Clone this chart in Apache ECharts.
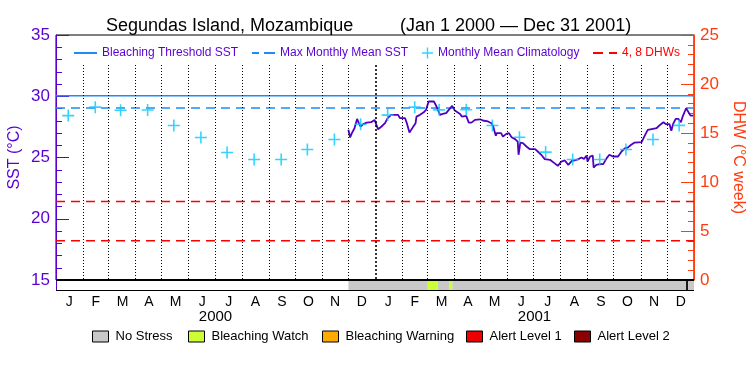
<!DOCTYPE html>
<html><head><meta charset="utf-8">
<script src="https://cdn.jsdelivr.net/npm/echarts@6/dist/echarts.min.js"></script>
<style>html,body{margin:0;padding:0;background:#fff}#c{width:750px;height:375px}</style>
</head><body><div id="c"></div>
<script>
// ---------------- DATA ----------------
const sstDates = ['2000-12-01','2000-12-03','2000-12-05','2000-12-08','2000-12-11','2000-12-13','2000-12-15','2000-12-18','2000-12-22','2000-12-27','2000-12-31',
'2001-01-04','2001-01-08','2001-01-12','2001-01-15','2001-01-19','2001-01-27','2001-01-29','2001-02-04','2001-02-06','2001-02-09','2001-02-13','2001-02-16','2001-02-17','2001-02-21','2001-02-25','2001-02-28',
'2001-03-03','2001-03-09','2001-03-12','2001-03-16','2001-03-19','2001-03-23','2001-03-26','2001-03-30','2001-04-02','2001-04-08','2001-04-10','2001-04-15','2001-04-18','2001-04-21','2001-04-25',
'2001-05-01','2001-05-04','2001-05-10','2001-05-14','2001-05-16','2001-05-18','2001-05-19','2001-05-20','2001-05-25','2001-05-27','2001-05-31','2001-06-03','2001-06-06','2001-06-10','2001-06-13','2001-06-14','2001-06-16','2001-06-19','2001-06-23','2001-06-27',
'2001-07-03','2001-07-06','2001-07-10','2001-07-14','2001-07-20','2001-07-25','2001-07-29','2001-08-02','2001-08-06','2001-08-10','2001-08-14','2001-08-17','2001-08-21','2001-08-25','2001-08-28','2001-08-31',
'2001-09-01','2001-09-04','2001-09-07','2001-09-08','2001-09-11','2001-09-15','2001-09-19','2001-09-23','2001-09-26','2001-09-30','2001-10-06','2001-10-10','2001-10-14','2001-10-17','2001-10-21','2001-10-25',
'2001-11-02','2001-11-06','2001-11-09','2001-11-15','2001-11-19','2001-11-23','2001-11-27','2001-11-30','2001-12-04','2001-12-06','2001-12-08','2001-12-11','2001-12-14','2001-12-17','2001-12-19','2001-12-23','2001-12-25','2001-12-28','2001-12-31'];
const sstValues = [27.26,26.63,26.99,27.39,28.15,27.80,27.53,27.72,27.85,27.88,28.07,
27.31,27.53,27.80,28.21,28.48,28.48,28.21,28.21,27.80,27.04,27.48,27.80,28.34,28.48,28.67,28.89,
29.57,29.57,29.16,28.48,28.56,28.62,28.89,29.21,28.83,28.56,28.34,28.40,27.85,27.85,28.07,
28.12,28.02,27.94,27.80,27.53,26.99,26.77,26.99,26.99,26.71,26.93,26.99,26.66,26.50,26.30,25.22,26.22,26.17,25.90,25.68,
25.68,25.49,25.22,24.87,24.81,24.54,24.32,24.67,24.76,24.40,24.73,24.76,24.85,25.00,24.89,25.16,
24.67,25.08,25.16,24.18,24.40,24.46,24.46,24.95,25.22,25.08,25.08,25.49,25.76,25.81,26.04,26.22,
26.25,26.85,27.26,27.34,27.39,27.66,27.88,27.72,27.72,27.18,27.72,28.15,28.15,27.88,28.34,29.02,28.89,28.42,28.42];

const climDates = ['2000-01-15','2000-02-15','2000-03-15','2000-04-15','2000-05-15','2000-06-15','2000-07-15','2000-08-15','2000-09-15','2000-10-15','2000-11-15','2000-12-15',
'2001-01-15','2001-02-15','2001-03-15','2001-04-15','2001-05-15','2001-06-15','2001-07-15','2001-08-15','2001-09-15','2001-10-15','2001-11-15','2001-12-15'];
const climValues = [28.42,29.11,28.86,28.88,27.61,26.63,25.41,24.84,24.84,25.65,26.47,27.72,
28.46,29.11,28.89,28.90,27.61,26.66,25.44,24.84,24.84,25.65,26.47,27.62];

const mmmValue = 29.05;
const thresholdValue = 30.05;
const dhwLevels = [4, 8];

const monthStarts = ['2000-02-01','2000-03-01','2000-04-01','2000-05-01','2000-06-01','2000-07-01','2000-08-01','2000-09-01','2000-10-01','2000-11-01','2000-12-01',
'2001-01-01','2001-02-01','2001-03-01','2001-04-01','2001-05-01','2001-06-01','2001-07-01','2001-08-01','2001-09-01','2001-10-01','2001-11-01','2001-12-01'];
const yearStart = '2001-01-01';
const monthLabels = ['J','F','M','A','M','J','J','A','S','O','N','D','J','F','M','A','M','J','J','A','S','O','N','D'];
const yearLabels = ['2000','2001'];

const statusStart = ['2000-12-01','2001-03-02','2001-03-13','2001-03-27','2001-03-30','2001-12-23'];
const statusEnd   = ['2001-03-02','2001-03-13','2001-03-27','2001-03-30','2002-01-01','2001-12-25'];
const statusLevel = [0,1,0,1,0,-1];
const statusNames = ['No Stress','Bleaching Watch','Bleaching Warning','Alert Level 1','Alert Level 2'];

const rangeStart = '2000-01-01';
const rangeEnd = '2002-01-01';

// ---------------- STYLE / LAYOUT ----------------
const T = s => +echarts.time.parse(s);
const FONT = 'Liberation Sans';
const PURPLE = '#5a00d2';
const LINEPURPLE = '#5000c0';
const ORANGE = '#ff3c10';
const BLUE = '#1e8cf0';
const CYAN = '#00c8ff';
const RED = '#ff0000';
const statusColors = ['#c8c8c8','#ccff33','#ffaa00','#ee0000','#8b0000'];
const gapColor = '#000000';
const gridLineTop = 32.55;
const plusPath = 'path://M5,0h1.5v5h5v1.5h-5v5h-1.5v-5h-5v-1.5h5z';

const t0 = T(rangeStart), t1 = T(rangeEnd);

const chart = echarts.init(document.getElementById('c'), null, {renderer:'canvas'});

const statusSeries = statusNames.map((nm, li) => ({
  type:'custom', name:nm, xAxisIndex:1, yAxisIndex:2, silent:true,
  itemStyle:{color:statusColors[li]},
  encode:{x:[0,1]},
  data: statusStart.map((s,i)=>[T(s),T(statusEnd[i]),statusLevel[i]]).filter(d=>d[2]===li),
  renderItem:(params, api)=>{
    const a = api.coord([api.value(0), 1]);
    const b = api.coord([api.value(1), 0]);
    return {type:'rect', shape:{x:a[0], y:a[1], width:b[0]-a[0], height:b[1]-a[1]}, style:{fill:statusColors[li]}};
  }
}));
const gapSeries = {
  type:'custom', name:'gap', xAxisIndex:1, yAxisIndex:2, silent:true, encode:{x:[0,1]},
  data: statusStart.map((s,i)=>[T(s),T(statusEnd[i]),statusLevel[i]]).filter(d=>d[2]===-1),
  renderItem:(params, api)=>{
    const a = api.coord([api.value(0), 1]);
    const b = api.coord([api.value(1), 0]);
    return {type:'rect', shape:{x:a[0], y:a[1], width:b[0]-a[0], height:b[1]-a[1]}, style:{fill:gapColor}};
  }
};
const frameSeries = {
  type:'custom', name:'frame', xAxisIndex:1, yAxisIndex:2, silent:true, z:5, encode:{x:[0,1]},
  data:[[t0,t1]],
  renderItem:(params, api)=>{
    const a = api.coord([api.value(0), 1]);
    const b = api.coord([api.value(1), 0]);
    return {type:'group', children:[
      {type:'line', shape:{x1:a[0], y1:a[1], x2:b[0], y2:a[1]}, style:{stroke:'#000', lineWidth:2}},
      {type:'line', shape:{x1:a[0], y1:b[1]+0.5, x2:b[0], y2:b[1]+0.5}, style:{stroke:'#000', lineWidth:1}}
    ]};
  }
};

const topLegendBase = {
  orient:'horizontal', selectedMode:false, top:42, itemGap:10,
  textStyle:{fontFamily:FONT, fontSize:12, color:PURPLE}
};

const option = {
  animation:false,
  textStyle:{fontFamily:FONT},
  title:[
    {text:'Segundas Island, Mozambique', left:101, top:12, textStyle:{fontFamily:FONT, fontSize:18, fontWeight:'normal', color:'#000'}},
    {text:'(Jan 1 2000 \u2014 Dec 31 2001)', left:395, top:12, textStyle:{fontFamily:FONT, fontSize:18, fontWeight:'normal', color:'#000'}}
  ],
  legend:[
    Object.assign({}, topLegendBase, {left:69, itemWidth:23, itemHeight:2,
      data:[{name:'Bleaching Threshold SST', icon:'rect', itemStyle:{color:BLUE, borderWidth:0}}]}),
    Object.assign({}, topLegendBase, {left:247, itemWidth:23, itemHeight:2,
      data:[{name:'Max Monthly Mean SST', icon:'path://M0,0h7v2h-7zM12,0h11v2h-11z', itemStyle:{color:BLUE, borderWidth:0}}]}),
    Object.assign({}, topLegendBase, {left:417, itemWidth:11, itemHeight:11,
      data:[{name:'Monthly Mean Climatology', icon:plusPath, itemStyle:{color:CYAN, borderWidth:0}}]}),
    Object.assign({}, topLegendBase, {left:588, itemWidth:24, itemHeight:2, textStyle:{fontFamily:FONT, fontSize:12, color:RED},
      data:[{name:'4, 8 DHWs', icon:'path://M0,0h10v2h-10zM16,0h8v2h-8z', itemStyle:{color:RED, borderWidth:0}}]})
  ].concat(statusNames.map((nm,i)=>({
    orient:'horizontal', selectedMode:false, top:325, left:[87,183,317,461,569][i],
    itemWidth:16, itemHeight:11,
    textStyle:{fontFamily:FONT, fontSize:13, color:'#000', padding:[0,0,0,2]},
    data:[{name:nm, icon:'rect', itemStyle:{color:statusColors[i], borderColor:'#000', borderWidth:1}}]
  }))),
  grid:[
    {left:56, right:56, top:35, height:245, show:true, borderColor:'#000', borderWidth:1, backgroundColor:'transparent', outerBoundsMode:'none', containLabel:false},
    {left:56, right:56, top:280, height:10, show:false, outerBoundsMode:'none', containLabel:false}
  ],
  xAxis:[
    {type:'time', gridIndex:0, min:t0, max:t1, show:false},
    {type:'time', gridIndex:1, min:t0, max:t1, show:false},
    {type:'category', gridIndex:1, data:monthLabels, position:'bottom', boundaryGap:true,
      axisLine:{show:false}, axisTick:{show:false}, splitLine:{show:false},
      axisLabel:{interval:0, margin:5, fontFamily:FONT, fontSize:14, color:'#000'}},
    {type:'category', gridIndex:1, data:yearLabels, position:'bottom', offset:14, boundaryGap:true,
      axisLine:{show:false}, axisTick:{show:false}, splitLine:{show:false},
      axisLabel:{interval:0, margin:5, fontFamily:FONT, fontSize:15, color:'#000'}}
  ],
  yAxis:[
    {type:'value', gridIndex:0, position:'left', min:15, max:35, interval:5,
      name:'SST (\u00B0C)', nameLocation:'middle', nameGap:33, nameRotate:90, nameMoveOverlap:false,
      nameTextStyle:{fontFamily:FONT, fontSize:16, color:PURPLE},
      axisLine:{show:true, lineStyle:{color:PURPLE, width:1}},
      axisTick:{show:true, inside:true, length:13, lineStyle:{color:PURPLE, width:1}},
      minorTick:{show:true, splitNumber:5, length:6, lineStyle:{color:PURPLE, width:1}},
      splitLine:{show:false},
      axisLabel:{margin:6, fontFamily:FONT, fontSize:17, color:PURPLE}},
    {type:'value', gridIndex:0, position:'right', min:0, max:25, interval:5,
      name:'DHW (\u00B0C week)', nameLocation:'middle', nameGap:36, nameRotate:-90,
      nameTextStyle:{fontFamily:FONT, fontSize:16, color:ORANGE},
      axisLine:{show:true, lineStyle:{color:ORANGE, width:1}},
      axisTick:{show:true, inside:true, length:13, lineStyle:{color:ORANGE, width:1}},
      minorTick:{show:true, splitNumber:5, length:6, lineStyle:{color:ORANGE, width:1}},
      splitLine:{show:false},
      axisLabel:{margin:6, fontFamily:FONT, fontSize:17, color:ORANGE}},
    {type:'value', gridIndex:1, position:'left', min:0, max:1, interval:1,
      axisLine:{show:true, lineStyle:{color:PURPLE, width:1}},
      axisTick:{show:false}, axisLabel:{show:false}, splitLine:{show:false}}
  ],
  series:[
    {type:'line', name:'Bleaching Threshold SST', xAxisIndex:0, yAxisIndex:0, symbol:'none', silent:true,
      color:BLUE, lineStyle:{color:BLUE, width:1.5}, data:[[t0,thresholdValue],[t1,thresholdValue]], z:3},
    {type:'line', name:'Max Monthly Mean SST', xAxisIndex:0, yAxisIndex:0, symbol:'none', silent:true,
      color:BLUE, lineStyle:{color:BLUE, width:1.5, type:[9,6]}, data:[[t0,mmmValue],[t1,mmmValue]], z:3},
    {type:'line', name:'4, 8 DHWs', xAxisIndex:0, yAxisIndex:1, symbol:'none', silent:true,
      color:RED, lineStyle:{color:RED, width:1.5, type:[9,6]}, data:[[t0,dhwLevels[0]],[t1,dhwLevels[0]]], z:3},
    {type:'line', name:'4, 8 DHWs', xAxisIndex:0, yAxisIndex:1, symbol:'none', silent:true,
      color:RED, lineStyle:{color:RED, width:1.5, type:[9,6]}, data:[[t0,dhwLevels[1]],[t1,dhwLevels[1]]], z:3},
    {type:'line', name:'SST', xAxisIndex:0, yAxisIndex:0, symbol:'none', silent:true,
      color:LINEPURPLE, lineStyle:{color:LINEPURPLE, width:1.8}, z:4,
      data: sstDates.map((d,i)=>[T(d), sstValues[i]]),
      markLine:{silent:true, symbol:['none','none'], label:{show:false}, animation:false,
        lineStyle:{color:'#000', width:1, type:[1,2]},
        data: monthStarts.map(d=>[
          {coord:[T(d), gridLineTop], lineStyle:(d===yearStart?{width:1.6, type:[2,2], color:'#000'}:{width:1, type:[1,2], color:'#000'})},
          {coord:[T(d), 15]}
        ])}},
    {type:'scatter', name:'Monthly Mean Climatology', xAxisIndex:0, yAxisIndex:0, silent:true,
      symbol:plusPath, symbolSize:12, color:CYAN, itemStyle:{color:CYAN}, z:6,
      data: climDates.map((d,i)=>[T(d), climValues[i]])}
  ].concat(statusSeries, [gapSeries, frameSeries])
};
chart.setOption(option);
</script>
</body></html>
